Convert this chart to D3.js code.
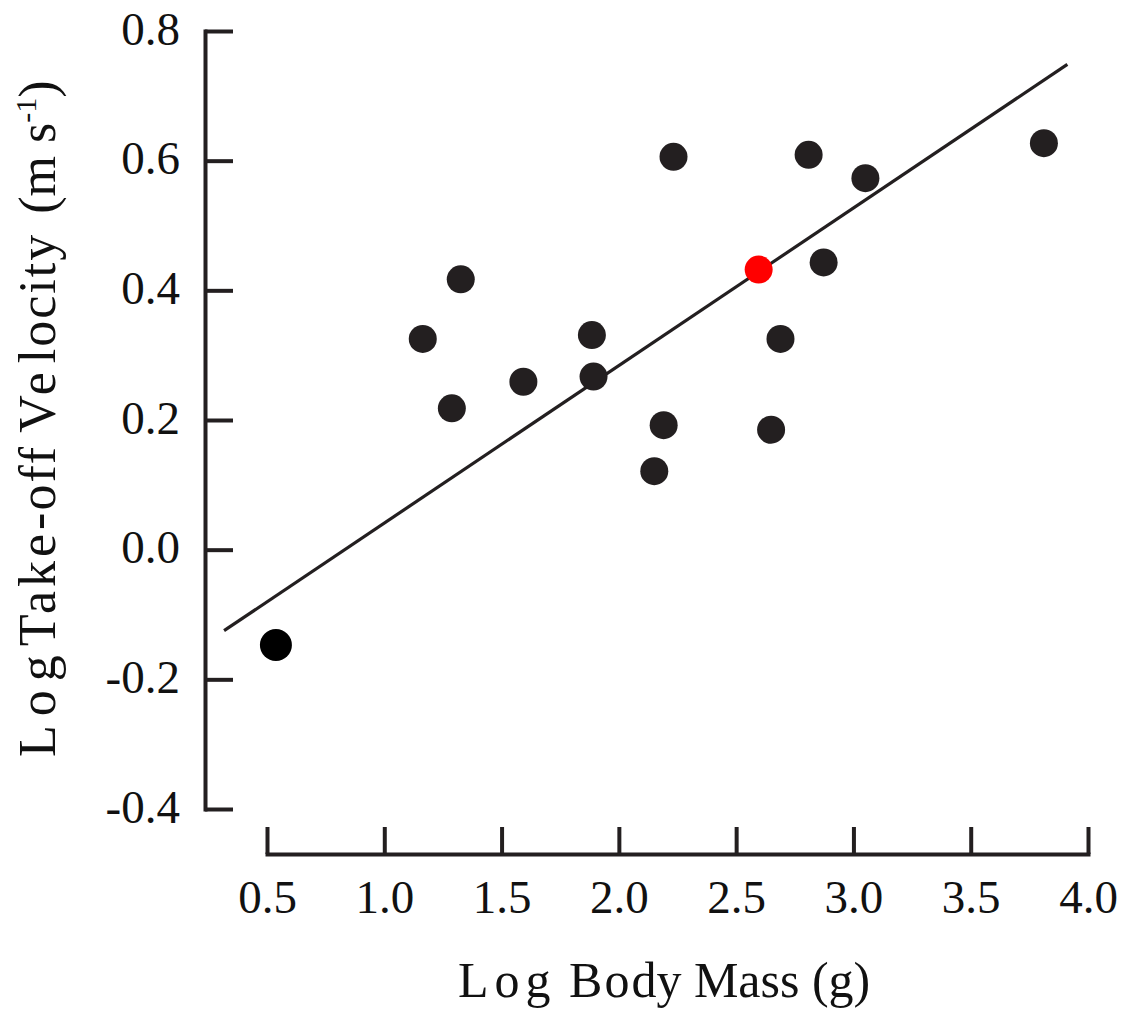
<!DOCTYPE html>
<html>
<head>
<meta charset="utf-8">
<script src="https://cdn.jsdelivr.net/npm/d3@7"></script>
<style>
  html, body { margin: 0; padding: 0; background: #fff; }
  svg { display: block; }
  text { font-family: "Liberation Serif", "Times New Roman", serif; fill: #111; }
</style>
</head>
<body>
<svg id="chart" width="1125" height="1012"></svg>
<script>
// Log body mass (g) and log take-off velocity (m s^-1) for each species
const logMass     = [0.538, 1.164, 1.326, 1.288, 1.593, 1.885, 1.892, 2.233, 2.191, 2.151, 2.809, 3.051, 2.873, 2.689, 2.649, 3.812];
const logVelocity = [-0.147, 0.325, 0.417, 0.218, 0.259, 0.331, 0.267, 0.606, 0.192, 0.121, 0.609, 0.573, 0.443, 0.325, 0.185, 0.627];

// Highlighted species
const highlightMass = [2.596];
const highlightVelocity = [0.432];

// Least-squares fit: logVelocity = fitIntercept + fitSlope * logMass
const fitIntercept = -0.202;
const fitSlope = 0.243;
const fitExtent = [0.317, 3.912];

const xTicks = [0.5, 1.0, 1.5, 2.0, 2.5, 3.0, 3.5, 4.0];
const yTicks = [-0.4, -0.2, 0.0, 0.2, 0.4, 0.6, 0.8];

const ink = "#231f20";
const svg = d3.select("#chart");

const x = d3.scaleLinear().domain([0.5, 4.0]).range([267, 1088]);
const y = d3.scaleLinear().domain([-0.4, 0.8]).range([809, 31]);

const fmt = d => d.toFixed(1);

// Y axis, ticks pointing inward
const gy = svg.append("g")
  .attr("transform", "translate(205,0)")
  .call(d3.axisLeft(y).tickValues(yTicks).tickFormat(fmt).tickSizeInner(-28).tickSizeOuter(0).tickPadding(25));

// X axis, ticks pointing upward
const gx = svg.append("g")
  .attr("transform", "translate(0,854)")
  .call(d3.axisBottom(x).tickValues(xTicks).tickFormat(fmt).tickSizeInner(-27).tickSizeOuter(0).tickPadding(26));

[gx, gy].forEach(g => {
  g.select(".domain").attr("stroke", ink).attr("stroke-width", 4).attr("stroke-linecap", "square");
  g.selectAll(".tick line").attr("stroke", ink).attr("stroke-width", 4);
  g.selectAll(".tick text").attr("font-size", 47).attr("fill", "#111")
    .style("font-family", "'Liberation Serif', 'Times New Roman', serif");
});
gy.selectAll(".tick text").attr("dy", "0.28em");

// Regression line
svg.append("line")
  .attr("x1", x(fitExtent[0])).attr("y1", y(fitIntercept + fitSlope * fitExtent[0]))
  .attr("x2", x(fitExtent[1])).attr("y2", y(fitIntercept + fitSlope * fitExtent[1]))
  .attr("stroke", ink).attr("stroke-width", 3.2);

// Species points
svg.append("g").selectAll("circle")
  .data(d3.range(logMass.length))
  .join("circle")
  .attr("cx", i => x(logMass[i]))
  .attr("cy", i => y(logVelocity[i]))
  .attr("r", i => i === 0 ? 16 : 14)
  .attr("fill", i => i === 0 ? "#000" : ink);

svg.append("g").selectAll("circle")
  .data(d3.range(highlightMass.length))
  .join("circle")
  .attr("cx", i => x(highlightMass[i]))
  .attr("cy", i => y(highlightVelocity[i]))
  .attr("r", 14)
  .attr("fill", "#ff0000");

// X axis title (spaced lettering)
const xt = svg.append("text")
  .attr("x", 458).attr("y", 997)
  .attr("font-size", 50);
xt.append("tspan").attr("letter-spacing", 6).text("Log");
xt.append("tspan").text(" ");
xt.append("tspan").attr("letter-spacing", 2).text("Bo");
xt.append("tspan").text("dy Mass (g)");

// Y axis title (spaced lettering)
const yt = svg.append("text")
  .attr("transform", "translate(55,757) rotate(-90)")
  .attr("font-size", 52);
yt.append("tspan").attr("letter-spacing", 9).text("Log");
yt.append("tspan").attr("letter-spacing", 4).text("Take");
yt.append("tspan").attr("letter-spacing", 2).text("-off");
yt.append("tspan").text(" V");
yt.append("tspan").attr("letter-spacing", 9).text("e");
yt.append("tspan").attr("letter-spacing", 2).text("locity ");
yt.append("tspan").attr("dx", 4).text("(m s");
yt.append("tspan").attr("font-size", 30).attr("dy", -19).text("-1");
yt.append("tspan").attr("dy", 19).text(")");
</script>
</body>
</html>
